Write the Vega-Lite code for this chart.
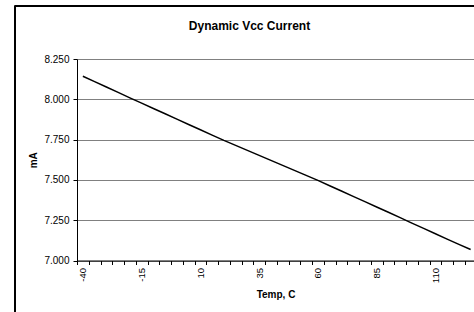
{
  "$schema": "https://vega.github.io/schema/vega-lite/v6.json",
  "width": 397,
  "height": 201.5,
  "autosize": "none",
  "padding": {"left": 77, "top": 59, "right": 0, "bottom": 51.5},
  "background": "white",
  "config": {
    "view": {"stroke": null},
    "font": "Liberation Sans",
    "axisX": {
      "labelExpr": "datum.value % 5 == 0 ? '' + datum.value : ''",
      "tickOpacity": {"condition": {"test": "datum.value % 5 == 0", "value": 0}, "value": 1},
      "labelAngle": -90,
      "labelFontSize": 9.5,
      "labelColor": "black",
      "labelPadding": 3,
      "tickSize": 4,
      "tickColor": "black",
      "domainColor": "black",
      "grid": false,
      "labelOverlap": false,
      "labelBound": false,
      "labelFlush": false,
      "titleFontSize": 10,
      "titleFontWeight": "bold",
      "titleColor": "black",
      "titlePadding": 7
    },
    "axisY": {
      "format": ".3f",
      "labelFontSize": 10,
      "labelColor": "black",
      "labelPadding": 4,
      "tickSize": 4,
      "tickColor": "black",
      "domainColor": "black",
      "grid": true,
      "gridColor": "#808080",
      "gridWidth": 1,
      "titleFontSize": 10,
      "titleFontWeight": "bold",
      "titleColor": "black",
      "titlePadding": 5
    }
  },
  "title": {
    "text": "Dynamic Vcc Current",
    "font": "Liberation Sans",
    "fontSize": 12,
    "fontWeight": "bold",
    "color": "black",
    "anchor": "middle",
    "frame": "group",
    "dx": -26,
    "offset": -28
  },
  "data": {
    "values": [
      {"temp": -40, "mA": 8.143},
      {"temp": -35, "mA": 8.110},
      {"temp": -30, "mA": 8.076},
      {"temp": -25, "mA": 8.043},
      {"temp": -20, "mA": 8.009},
      {"temp": -15, "mA": 7.976},
      {"temp": -10, "mA": 7.943},
      {"temp": -5, "mA": 7.910},
      {"temp": 0, "mA": 7.877},
      {"temp": 5, "mA": 7.844},
      {"temp": 10, "mA": 7.811},
      {"temp": 15, "mA": 7.778},
      {"temp": 20, "mA": 7.745},
      {"temp": 25, "mA": 7.714},
      {"temp": 30, "mA": 7.683},
      {"temp": 35, "mA": 7.652},
      {"temp": 40, "mA": 7.621},
      {"temp": 45, "mA": 7.590},
      {"temp": 50, "mA": 7.559},
      {"temp": 55, "mA": 7.528},
      {"temp": 60, "mA": 7.497},
      {"temp": 65, "mA": 7.464},
      {"temp": 70, "mA": 7.431},
      {"temp": 75, "mA": 7.398},
      {"temp": 80, "mA": 7.365},
      {"temp": 85, "mA": 7.332},
      {"temp": 90, "mA": 7.299},
      {"temp": 95, "mA": 7.266},
      {"temp": 100, "mA": 7.232},
      {"temp": 105, "mA": 7.199},
      {"temp": 110, "mA": 7.166},
      {"temp": 115, "mA": 7.133},
      {"temp": 120, "mA": 7.100},
      {"temp": 125, "mA": 7.068}
    ]
  },
  "layer": [
    {
      "mark": {"type": "line", "color": "black", "strokeWidth": 1.5},
      "encoding": {
        "x": {
          "field": "temp",
          "type": "quantitative",
          "title": "Temp, C",
          "scale": {"domain": [-42.5, 126.43], "nice": false, "zero": false},
          "axis": {"values": [-42.5, -40, -37.5, -32.5, -27.5, -22.5, -17.5, -15, -12.5, -7.5, -2.5, 2.5, 7.5, 10, 12.5, 17.5, 22.5, 27.5, 32.5, 35, 37.5, 42.5, 47.5, 52.5, 57.5, 60, 62.5, 67.5, 72.5, 77.5, 82.5, 85, 87.5, 92.5, 97.5, 102.5, 107.5, 110, 112.5, 117.5, 122.5, 127.5]}
        },
        "y": {
          "field": "mA",
          "type": "quantitative",
          "title": "mA",
          "scale": {"domain": [7, 8.25], "nice": false, "zero": false},
          "axis": {"values": [7, 7.25, 7.5, 7.75, 8, 8.25]}
        }
      }
    },
    {
      "mark": {"type": "rule", "color": "black", "strokeWidth": 1, "clip": false},
      "encoding": {
        "x": {"datum": -68.9, "type": "quantitative", "title": "Temp, C",
          "axis": {"values": [-42.5, -40, -37.5, -32.5, -27.5, -22.5, -17.5, -15, -12.5, -7.5, -2.5, 2.5, 7.5, 10, 12.5, 17.5, 22.5, 27.5, 32.5, 35, 37.5, 42.5, 47.5, 52.5, 57.5, 60, 62.5, 67.5, 72.5, 77.5, 82.5, 85, 87.5, 92.5, 97.5, 102.5, 107.5, 110, 112.5, 117.5, 122.5, 127.5]}},
        "y": {"datum": 8.5788, "type": "quantitative", "title": "mA", "axis": {"values": [7, 7.25, 7.5, 7.75, 8, 8.25]}},
        "y2": {"datum": 6.6}
      }
    },
    {
      "mark": {"type": "rule", "color": "black", "strokeWidth": 1, "clip": false},
      "encoding": {
        "x": {"datum": -68.9, "type": "quantitative", "title": "Temp, C",
          "axis": {"values": [-42.5, -40, -37.5, -32.5, -27.5, -22.5, -17.5, -15, -12.5, -7.5, -2.5, 2.5, 7.5, 10, 12.5, 17.5, 22.5, 27.5, 32.5, 35, 37.5, 42.5, 47.5, 52.5, 57.5, 60, 62.5, 67.5, 72.5, 77.5, 82.5, 85, 87.5, 92.5, 97.5, 102.5, 107.5, 110, 112.5, 117.5, 122.5, 127.5]}},
        "x2": {"datum": 140},
        "y": {"datum": 8.5788, "type": "quantitative", "title": "mA", "axis": {"values": [7, 7.25, 7.5, 7.75, 8, 8.25]}}
      }
    }
  ]
}
